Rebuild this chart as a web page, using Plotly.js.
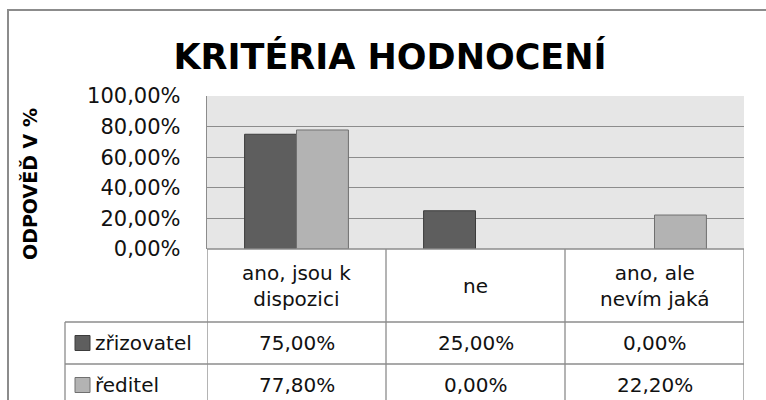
<!DOCTYPE html>
<html>
<head>
<meta charset="utf-8">
<script src="https://cdn.plot.ly/plotly-3.0.1.min.js"></script>
<style>html,body{margin:0;padding:0;background:#fff;}#chart{width:766px;height:400px;}</style>
</head>
<body>
<div id="chart"></div>
<script>
// ---- data ----
const categories = ["ano, jsou k<br>dispozici", "ne", "ano, ale<br>nevím jaká"];
const seriesNames = ["zřizovatel", "ředitel"];
const zrizovatel = [75.00, 25.00, 0.00];
const reditel = [77.80, 0.00, 22.20];
const yTickVals = [0, 20, 40, 60, 80, 100];
const titleText = "KRITÉRIA HODNOCENÍ";
const yTitleText = "ODPOVĚĎ V %";

// ---- styling / geometry ----
const W = 766, H = 400;
const L = 207, R = 744, T = 96, B = 249;
const FONT = "DejaVu Sans, Arial, sans-serif";
const lineCol = "#8c8c8c";
const colors = ["#5e5e5e", "#b3b3b3"];
const outlines = ["#3c3c3c", "#707070"];
const fmt = v => v.toFixed(2).replace('.', ',') + '%';
const pxX = p => (p - L) / (R - L);
const pxY = p => (B - p) / (B - T);

const seriesVals = [zrizovatel, reditel];
const xs = categories.map((c, i) => i);

const traces = seriesVals.map((vals, k) => ({
  type: 'bar', x: xs, y: vals, name: seriesNames[k],
  marker: {color: colors[k], line: {color: outlines[k], width: vals.map(v => v > 0 ? 1 : 0)}},
  hoverinfo: 'none'
}));

const shapes = [];
const ann = [];
function hline(y, x0, x1) { shapes.push({type:'line', xref:'paper', yref:'paper', x0:pxX(x0), x1:pxX(x1), y0:pxY(y), y1:pxY(y), line:{color:lineCol, width:1.3}}); }
function vlineData(xd, y0, y1) { shapes.push({type:'line', xref:'x', yref:'paper', x0:xd, x1:xd, y0:pxY(y0), y1:pxY(y1), line:{color:lineCol, width:1.3}}); }

// outer frame
shapes.push({type:'rect', xref:'paper', yref:'paper', x0:pxX(8), x1:pxX(800), y0:pxY(10), y1:pxY(430), line:{color:lineCol, width:2}, layer:'below'});

// table lines
const rowY = [322, 364];
rowY.forEach(y => hline(y, 65, R));
shapes.push({type:'line', xref:'paper', yref:'paper', x0:pxX(65), x1:pxX(65), y0:pxY(322), y1:pxY(430), line:{color:lineCol, width:1.3}});
for (let i = 0; i <= categories.length; i++) vlineData(i - 0.5, 249, 430);

// category labels
categories.forEach((c, i) => ann.push({xref:'x', yref:'paper', x:i, y:pxY(286), text:c, showarrow:false,
  font:{family:FONT, size:20, color:'#111'}, xanchor:'center', yanchor:'middle'}));

// series rows
const rowCenters = [343, 385];
seriesVals.forEach((vals, k) => {
  const yc = rowCenters[k];
  shapes.push({type:'rect', xref:'paper', yref:'paper', x0:pxX(75), x1:pxX(90), y0:pxY(yc-7.5), y1:pxY(yc+7.5),
    fillcolor:colors[k], line:{color:outlines[k], width:1}});
  ann.push({xref:'paper', yref:'paper', x:pxX(93), y:pxY(yc), text:seriesNames[k], showarrow:false,
    font:{family:FONT, size:20, color:'#111'}, xanchor:'left', yanchor:'middle'});
  vals.forEach((v, i) => ann.push({xref:'x', yref:'paper', x:i, y:pxY(yc), text:fmt(v), showarrow:false,
    font:{family:FONT, size:20, color:'#111'}, xanchor:'center', yanchor:'middle'}));
});

// y axis title
ann.push({xref:'paper', yref:'paper', x:pxX(30), y:pxY(184), text:yTitleText, textangle:-90, showarrow:false,
  font:{family:FONT, size:19, color:'#000', weight:'bold'}, xanchor:'center', yanchor:'middle'});

const layout = {
  width: W, height: H,
  margin: {l: L, r: W - R, t: T, b: H - B, pad: 0},
  paper_bgcolor: '#ffffff', plot_bgcolor: '#e6e6e6',
  showlegend: false,
  barmode: 'group', bargap: 0.42, bargroupgap: 0,
  title: {text: titleText, font: {family: FONT, size: 35, color: '#000', weight: 'bold'},
    xref: 'container', yref: 'container', x: 390 / W, xanchor: 'center', y: 1 - 57 / H, yanchor: 'middle'},
  xaxis: {type: 'linear', range: [-0.5, categories.length - 0.5], showticklabels: false, showgrid: false,
    zeroline: false, showline: false, ticks: '', fixedrange: true},
  yaxis: {range: [0, 100], tickvals: yTickVals, ticktext: yTickVals.map(fmt), showgrid: true,
    gridcolor: lineCol, gridwidth: 1.3, zeroline: false, showline: true, linecolor: lineCol, linewidth: 1.3,
    mirror: false, ticks: 'outside', ticklen: 21, tickcolor: 'rgba(0,0,0,0)',
    tickfont: {family: FONT, size: 21, color: '#111'}, fixedrange: true},
  shapes: shapes, annotations: ann
};
shapes.push({type:'line', xref:'paper', yref:'paper', x0:0, x1:1, y0:0, y1:0, line:{color:lineCol, width:1.3}});

Plotly.newPlot('chart', traces, layout, {staticPlot: true, displayModeBar: false});
</script>
</body>
</html>
